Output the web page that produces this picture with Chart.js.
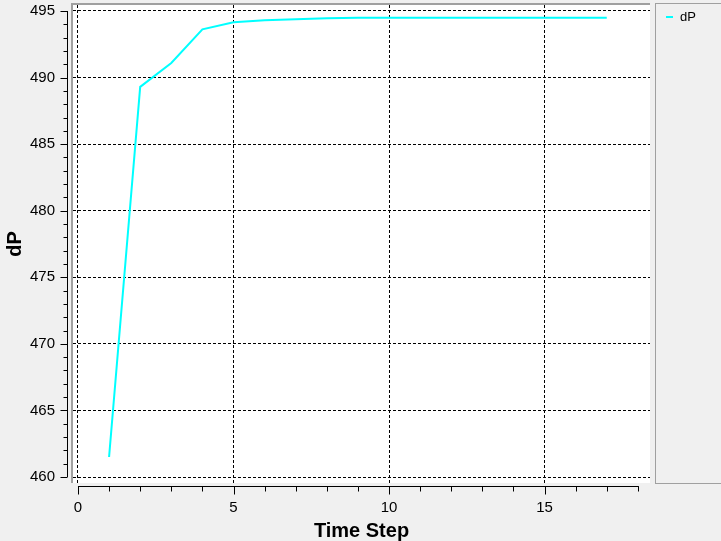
<!DOCTYPE html>
<html>
<head>
<meta charset="utf-8">
<script src="https://cdn.jsdelivr.net/npm/chart.js@4/dist/chart.umd.min.js"></script>
<style>
  html, body { margin: 0; padding: 0; background: #f0f0f0; }
  canvas { display: block; }
</style>
</head>
<body>
<canvas id="chart" width="721" height="541"></canvas>
<script>
// data
const timeSteps = [1, 2, 3, 4, 5, 6, 7, 8, 9, 10, 11, 12, 13, 14, 15, 16, 17];
const dPValues = [461.5, 489.3, 491.1, 493.62, 494.15, 494.3, 494.38, 494.45, 494.5,
                  494.5, 494.5, 494.5, 494.5, 494.5, 494.5, 494.5, 494.5];
const xMajorTicks = [0, 5, 10, 15];
const xMinorTicks = [0, 1, 2, 3, 4, 5, 6, 7, 8, 9, 10, 11, 12, 13, 14, 15, 16, 17, 18];
const yMajorTicks = [460, 465, 470, 475, 480, 485, 490, 495];
const yMinorTicks = [];
for (let v = 460; v <= 495; v++) yMinorTicks.push(v);

const FONT = '"Liberation Sans", Arial, sans-serif';

// background, plot area and legend box
const framePlugin = {
    id: 'frame',
    beforeDraw(chart) {
        const ctx = chart.ctx;
        const a = chart.chartArea;
        ctx.save();
        ctx.fillStyle = '#f0f0f0';
        ctx.fillRect(0, 0, chart.width, chart.height);
        ctx.fillStyle = '#ffffff';
        ctx.fillRect(a.left, a.top, a.right - a.left, a.bottom - a.top);

        // legend
        ctx.strokeStyle = '#a0a0a0';
        ctx.lineWidth = 1;
        ctx.strokeRect(655.5, 3.5, 80, 480);
        const ds = chart.data.datasets[0];
        ctx.strokeStyle = ds.borderColor;
        ctx.lineWidth = 2;
        ctx.beginPath();
        ctx.moveTo(666, 17);
        ctx.lineTo(673, 17);
        ctx.stroke();
        ctx.fillStyle = '#000';
        ctx.font = '13px ' + FONT;
        ctx.textBaseline = 'middle';
        ctx.fillText(ds.label, 680, 17);
        ctx.restore();
    },
    afterDraw(chart) {
        const ctx = chart.ctx;
        const a = chart.chartArea;
        const xs = chart.scales.x;
        const ys = chart.scales.y;
        ctx.save();
        // gray border left / top
        ctx.strokeStyle = '#a0a0a0';
        ctx.lineWidth = 2;
        ctx.beginPath();
        ctx.moveTo(a.left - 1, a.bottom);
        ctx.lineTo(a.left - 1, a.top - 1);
        ctx.lineTo(a.right, a.top - 1);
        ctx.stroke();

        ctx.strokeStyle = '#000';
        ctx.lineWidth = 1;
        // x axis line and ticks
        const axY = a.bottom + 3.5;
        ctx.beginPath();
        ctx.moveTo(xs.getPixelForValue(0), axY);
        ctx.lineTo(xs.getPixelForValue(18) + 1, axY);
        xMinorTicks.forEach(v => {
            const px = Math.round(xs.getPixelForValue(v)) + 0.5;
            const len = xMajorTicks.includes(v) ? 8 : 5;
            ctx.moveTo(px, axY);
            ctx.lineTo(px, axY + len);
        });
        ctx.stroke();

        // y axis line and ticks
        const axX = a.left - 5.5;
        ctx.beginPath();
        ctx.moveTo(axX, ys.getPixelForValue(495));
        ctx.lineTo(axX, ys.getPixelForValue(460));
        yMinorTicks.forEach(v => {
            const py = Math.round(ys.getPixelForValue(v)) + 0.5;
            const len = yMajorTicks.includes(v) ? 7 : 4;
            ctx.moveTo(axX, py);
            ctx.lineTo(axX - len, py);
        });
        ctx.stroke();
        ctx.restore();
    }
};

const ctx = document.getElementById('chart').getContext('2d');
const dpChart = new Chart(ctx, {
    type: 'line',
    data: {
        datasets: [{
            label: 'dP',
            data: timeSteps.map((t, i) => ({ x: t, y: dPValues[i] })),
            borderColor: '#00ffff',
            backgroundColor: '#00ffff',
            borderWidth: 2,
            pointRadius: 0,
            tension: 0,
            fill: false
        }]
    },
    options: {
        responsive: false,
        animation: false,
        layout: {
            autoPadding: false,
            padding: { top: 5, right: 71, left: 0, bottom: 0 }
        },
        plugins: {
            legend: { display: false },
            tooltip: { enabled: false }
        },
        scales: {
            x: {
                type: 'linear',
                min: -0.16,
                max: 18.39,
                afterBuildTicks(scale) {
                    scale.ticks = xMajorTicks.map(v => ({ value: v }));
                },
                afterFit(scale) {
                    scale.height = 58;
                },
                grid: { color: '#000', lineWidth: 1, drawTicks: false },
                border: { display: false, dash: [3, 2] },
                ticks: {
                    color: '#000',
                    font: { family: FONT, size: 15 },
                    padding: 16,
                    maxRotation: 0
                },
                title: {
                    display: true,
                    text: 'Time Step',
                    color: '#000',
                    font: { family: FONT, size: 20, weight: 'bold' },
                    padding: { top: 0, bottom: -2 }
                }
            },
            y: {
                type: 'linear',
                min: 459.55,
                max: 495.45,
                afterBuildTicks(scale) {
                    scale.ticks = yMajorTicks.map(v => ({ value: v }));
                },
                afterFit(scale) {
                    scale.width = 73;
                    scale.paddingTop = 0;
                    scale.paddingBottom = 0;
                },
                grid: { color: '#000', lineWidth: 1, drawTicks: false },
                border: { display: false, dash: [3, 2] },
                ticks: {
                    color: '#000',
                    font: { family: FONT, size: 15 },
                    padding: 18
                },
                title: {
                    display: true,
                    text: 'dP',
                    color: '#000',
                    font: { family: FONT, size: 20, weight: 'bold' },
                    padding: { top: 3, bottom: 0 }
                }
            }
        }
    },
    plugins: [framePlugin]
});
</script>
</body>
</html>
